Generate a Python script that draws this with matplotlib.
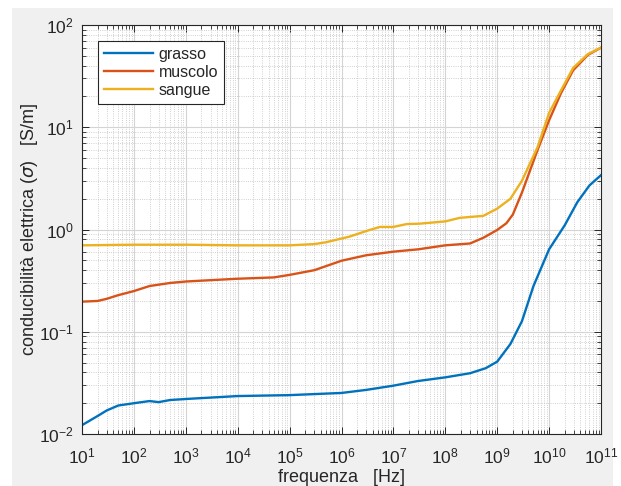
import matplotlib
matplotlib.use('Agg')
import matplotlib.pyplot as plt
from matplotlib.patches import Rectangle
from matplotlib.ticker import LogLocator, NullFormatter

# frequenza [Hz] e conducibilità [S/m]
f_grasso = [10, 20, 30, 50, 100, 200, 300, 500, 1e3, 1e4, 1e5, 1e6, 3e6, 1e7, 3e7, 1e8, 3e8, 6e8,
            1e9, 1.8e9, 3e9, 5e9, 1e10, 2e10, 3.5e10, 6e10, 1e11]
s_grasso = [0.0122, 0.015, 0.017, 0.019, 0.020, 0.021, 0.0205, 0.0215, 0.022, 0.0235, 0.024, 0.0252,
            0.027, 0.0297, 0.033, 0.0358, 0.0393, 0.044, 0.051, 0.076, 0.127, 0.28, 0.64, 1.1,
            1.85, 2.7, 3.4]

f_muscolo = [10, 20, 30, 50, 100, 200, 500, 1e3, 1e4, 5e4, 1e5, 3e5, 1e6, 3e6, 1e7, 3e7, 1e8, 3e8,
             5.4e8, 1e9, 1.5e9, 2e9, 3e9, 6e9, 1e10, 1.7e10, 2.9e10, 5.6e10, 1e11]
s_muscolo = [0.197, 0.2, 0.21, 0.228, 0.25, 0.28, 0.30, 0.31, 0.33, 0.34, 0.36, 0.40, 0.495,
             0.56, 0.607, 0.64, 0.70, 0.73, 0.83, 0.99, 1.15, 1.4, 2.3, 6.0, 11.7, 21.6, 36, 51, 60]

f_sangue = [10, 100, 1e3, 1e4, 1e5, 3e5, 5e5, 1.4e6, 3.5e6, 5.5e6, 1e7, 1.8e7, 3.2e7, 1e8, 1.9e8,
            5.4e8, 1e9, 1.8e9, 3e9, 6e9, 1e10, 1.7e10, 2.9e10, 5.6e10, 1e11]
s_sangue = [0.70, 0.71, 0.71, 0.70, 0.70, 0.72, 0.75, 0.85, 0.99, 1.06, 1.06, 1.13, 1.14, 1.2,
            1.30, 1.36, 1.6, 2.0, 3.0, 6.4, 13.8, 23, 38, 52, 60]

plt.rcParams['font.family'] = ['Liberation Sans', 'DejaVu Sans']
plt.rcParams['mathtext.fontset'] = 'dejavusans'
txt = '#262626'

fig = plt.figure(figsize=(6.21, 4.86), dpi=100)
fig.patch.set_facecolor('white')
fig.patches.append(Rectangle((12 / 621, 0), 601 / 621, 1 - 8 / 486, transform=fig.transFigure,
                             facecolor='#f0f0f0', edgecolor='none', zorder=-10))
ax = fig.add_axes([82 / 621, 1 - 434 / 486, 519 / 621, 409 / 486])
ax.set_facecolor('white')

ax.plot(f_grasso, s_grasso, color='#0072BD', lw=1.7, label='grasso')
ax.plot(f_muscolo, s_muscolo, color='#D95319', lw=1.7, label='muscolo')
ax.plot(f_sangue, s_sangue, color='#EDB120', lw=1.7, label='sangue')

ax.set_xscale('log')
ax.set_yscale('log')
ax.set_xlim(10, 1e11)
ax.set_ylim(1e-2, 1e2)
ax.xaxis.set_major_locator(LogLocator(base=10, numticks=20))
ax.xaxis.set_minor_locator(LogLocator(base=10, subs=range(2, 10), numticks=200))
ax.xaxis.set_minor_formatter(NullFormatter())
ax.yaxis.set_minor_locator(LogLocator(base=10, subs=range(2, 10), numticks=200))
ax.yaxis.set_minor_formatter(NullFormatter())

ax.grid(True, which='major', color='#d4d4d4', lw=0.8, ls='-')
ax.grid(True, which='minor', color='#c0c0c0', lw=0.6, ls=':')
ax.set_axisbelow(True)

ax.tick_params(which='both', direction='in', top=True, right=True, colors=txt, labelsize=12.5)
ax.tick_params(which='major', length=5, width=0.7)
ax.tick_params(which='minor', length=3, width=0.6)
ax.tick_params(axis='x', which='major', pad=9)
ax.tick_params(axis='y', which='major', pad=6)
for sp in ax.spines.values():
    sp.set_color(txt)
    sp.set_linewidth(0.8)

ax.set_xlabel('frequenza   [Hz]', fontsize=13, color=txt, labelpad=2)
ax.set_ylabel(r'conducibilità elettrica ($\sigma$)   [S/m]', fontsize=13, color=txt, labelpad=-1)

leg = ax.legend(loc='upper left', bbox_to_anchor=(0.031, 0.961), fontsize=11.5, handlelength=3.1,
                fancybox=False, framealpha=1, edgecolor=txt, borderpad=0.35, labelspacing=0.2,
                handletextpad=0.35, borderaxespad=0)
leg.get_frame().set_linewidth(0.8)
for t in leg.get_texts():
    t.set_color(txt)

fig.savefig('out.png', dpi=100, facecolor=fig.get_facecolor())
